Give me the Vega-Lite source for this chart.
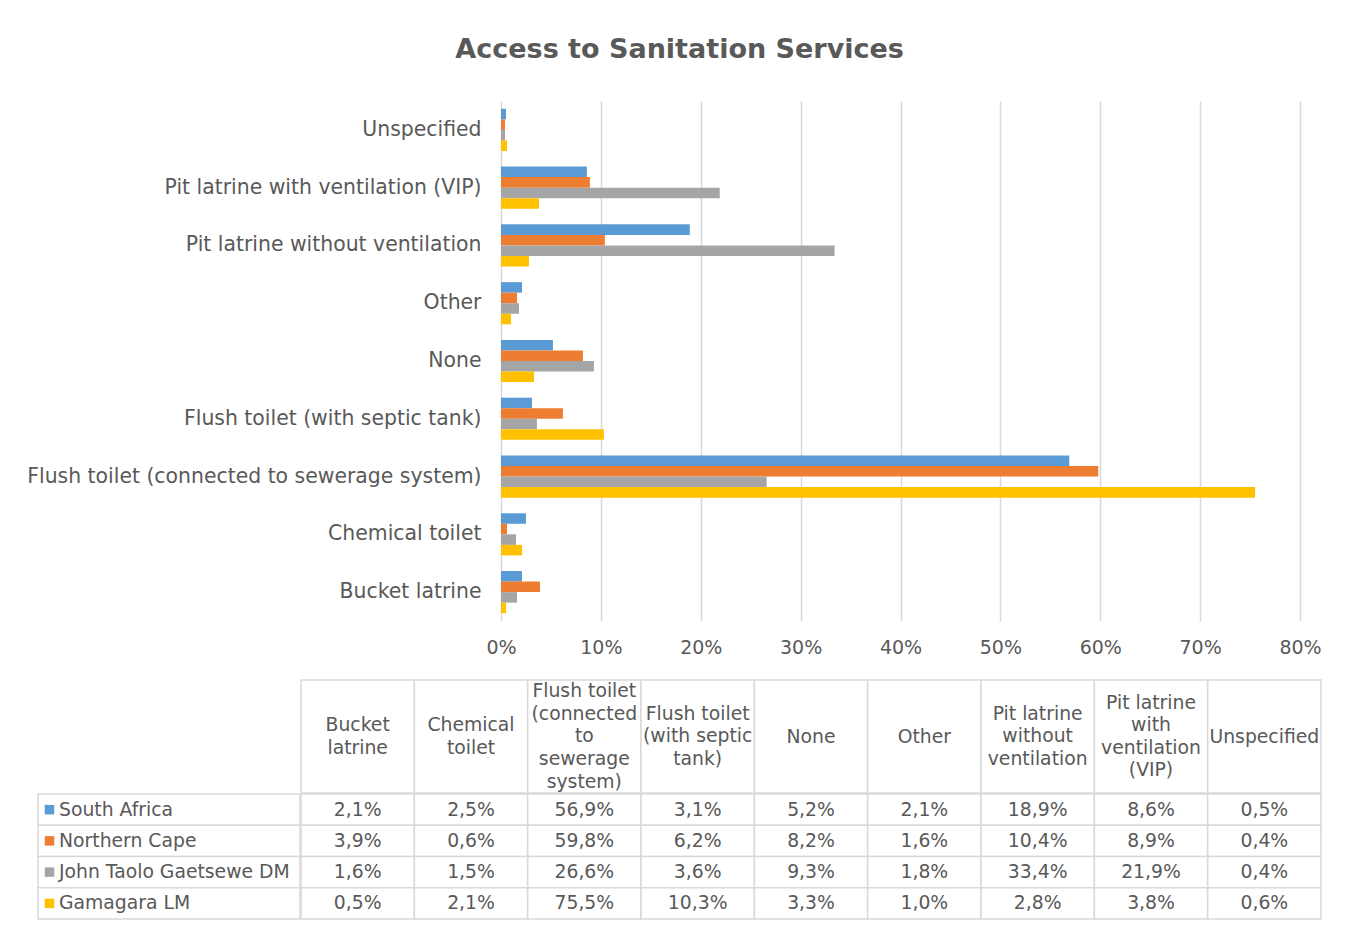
{
  "$schema": "https://vega.github.io/schema/vega-lite/v6.json",
  "background": "white",
  "padding": {"left": 25, "top": 36, "right": 20, "bottom": 20},
  "title": {"text": "Access to Sanitation Services", "fontSize": 27, "fontWeight": "bold", "color": "#595959", "anchor": "middle", "offset": 37, "dx": 6},
  "datasets": {
    "main": [
      {"series": "South Africa", "cat": "Bucket latrine", "value": 0.021},
      {"series": "South Africa", "cat": "Chemical toilet", "value": 0.025},
      {"series": "South Africa", "cat": "Flush toilet (connected to sewerage system)", "value": 0.569},
      {"series": "South Africa", "cat": "Flush toilet (with septic tank)", "value": 0.031},
      {"series": "South Africa", "cat": "None", "value": 0.052},
      {"series": "South Africa", "cat": "Other", "value": 0.021},
      {"series": "South Africa", "cat": "Pit latrine without ventilation", "value": 0.189},
      {"series": "South Africa", "cat": "Pit latrine with ventilation (VIP)", "value": 0.086},
      {"series": "South Africa", "cat": "Unspecified", "value": 0.005},
      {"series": "Northern Cape", "cat": "Bucket latrine", "value": 0.039},
      {"series": "Northern Cape", "cat": "Chemical toilet", "value": 0.006},
      {"series": "Northern Cape", "cat": "Flush toilet (connected to sewerage system)", "value": 0.598},
      {"series": "Northern Cape", "cat": "Flush toilet (with septic tank)", "value": 0.062},
      {"series": "Northern Cape", "cat": "None", "value": 0.082},
      {"series": "Northern Cape", "cat": "Other", "value": 0.016},
      {"series": "Northern Cape", "cat": "Pit latrine without ventilation", "value": 0.104},
      {"series": "Northern Cape", "cat": "Pit latrine with ventilation (VIP)", "value": 0.089},
      {"series": "Northern Cape", "cat": "Unspecified", "value": 0.004},
      {"series": "John Taolo Gaetsewe DM", "cat": "Bucket latrine", "value": 0.016},
      {"series": "John Taolo Gaetsewe DM", "cat": "Chemical toilet", "value": 0.015},
      {"series": "John Taolo Gaetsewe DM", "cat": "Flush toilet (connected to sewerage system)", "value": 0.266},
      {"series": "John Taolo Gaetsewe DM", "cat": "Flush toilet (with septic tank)", "value": 0.036},
      {"series": "John Taolo Gaetsewe DM", "cat": "None", "value": 0.093},
      {"series": "John Taolo Gaetsewe DM", "cat": "Other", "value": 0.018},
      {"series": "John Taolo Gaetsewe DM", "cat": "Pit latrine without ventilation", "value": 0.334},
      {"series": "John Taolo Gaetsewe DM", "cat": "Pit latrine with ventilation (VIP)", "value": 0.219},
      {"series": "John Taolo Gaetsewe DM", "cat": "Unspecified", "value": 0.004},
      {"series": "Gamagara LM", "cat": "Bucket latrine", "value": 0.005},
      {"series": "Gamagara LM", "cat": "Chemical toilet", "value": 0.021},
      {"series": "Gamagara LM", "cat": "Flush toilet (connected to sewerage system)", "value": 0.755},
      {"series": "Gamagara LM", "cat": "Flush toilet (with septic tank)", "value": 0.103},
      {"series": "Gamagara LM", "cat": "None", "value": 0.033},
      {"series": "Gamagara LM", "cat": "Other", "value": 0.010},
      {"series": "Gamagara LM", "cat": "Pit latrine without ventilation", "value": 0.028},
      {"series": "Gamagara LM", "cat": "Pit latrine with ventilation (VIP)", "value": 0.038},
      {"series": "Gamagara LM", "cat": "Unspecified", "value": 0.006}
    ],
    "headers": [
      {"cat": "Bucket latrine", "label": "Bucket\nlatrine"},
      {"cat": "Chemical toilet", "label": "Chemical\ntoilet"},
      {"cat": "Flush toilet (connected to sewerage system)", "label": "Flush toilet\n(connected\nto\nsewerage\nsystem)"},
      {"cat": "Flush toilet (with septic tank)", "label": "Flush toilet\n(with septic\ntank)"},
      {"cat": "None", "label": "None"},
      {"cat": "Other", "label": "Other"},
      {"cat": "Pit latrine without ventilation", "label": "Pit latrine\nwithout\nventilation"},
      {"cat": "Pit latrine with ventilation (VIP)", "label": "Pit latrine\nwith\nventilation\n(VIP)"},
      {"cat": "Unspecified", "label": "Unspecified"}
    ],
    "series": [
      {"series": "South Africa"},
      {"series": "Northern Cape"},
      {"series": "John Taolo Gaetsewe DM"},
      {"series": "Gamagara LM"}
    ]
  },
  "vconcat": [
    {
      "hconcat": [
        {"width": 463, "height": 520, "data": {"values": []}, "mark": "point", "encoding": {}},
        {
          "width": 799, "height": 520,
          "data": {"name": "main"},
          "mark": {"type": "bar"},
          "encoding": {
            "y": {"field": "cat", "type": "nominal",
              "sort": ["Unspecified", "Pit latrine with ventilation (VIP)", "Pit latrine without ventilation", "Other", "None", "Flush toilet (with septic tank)", "Flush toilet (connected to sewerage system)", "Chemical toilet", "Bucket latrine"],
              "scale": {"paddingInner": 0.27, "paddingOuter": 0.135},
              "axis": {"title": null, "labelFontSize": 20.4, "labelColor": "#595959", "labelPadding": 20, "ticks": false, "domain": false, "labelLimit": 0}},
            "yOffset": {"field": "series", "type": "nominal",
              "sort": ["South Africa", "Northern Cape", "John Taolo Gaetsewe DM", "Gamagara LM"],
              "scale": {"paddingInner": 0, "paddingOuter": 0}},
            "x": {"field": "value", "type": "quantitative",
              "scale": {"domain": [0, 0.8], "nice": false},
              "axis": {"title": null, "format": ".0%", "values": [0, 0.1, 0.2, 0.3, 0.4, 0.5, 0.6, 0.7, 0.8], "grid": true, "gridColor": "#D9D9D9", "gridWidth": 1.5, "domain": false, "ticks": false, "labelFontSize": 19, "labelColor": "#595959", "labelPadding": 17, "labelFlush": false}},
            "color": {"field": "series", "type": "nominal",
              "scale": {"domain": ["South Africa", "Northern Cape", "John Taolo Gaetsewe DM", "Gamagara LM"], "range": ["#5B9BD5", "#ED7D31", "#A5A5A5", "#FFC000"]},
              "legend": null}
          }
        }
      ],
      "spacing": 0,
      "bounds": "flush"
    },
    {
      "vconcat": [
        {
          "hconcat": [
            {"width": 262, "height": 113, "data": {"values": []}, "mark": "point", "encoding": {}},
            {
              "width": 1020, "height": 113,
              "data": {"name": "headers"},
              "layer": [
                {"mark": {"type": "rect", "fill": "white", "stroke": "#D9D9D9", "strokeWidth": 1.5},
                 "encoding": {"x": {"field": "cat", "type": "nominal", "sort": ["Bucket latrine", "Chemical toilet", "Flush toilet (connected to sewerage system)", "Flush toilet (with septic tank)", "None", "Other", "Pit latrine without ventilation", "Pit latrine with ventilation (VIP)", "Unspecified"], "scale": {"paddingInner": 0, "paddingOuter": 0}, "axis": null}}},
                {"mark": {"type": "text", "fontSize": 18.8, "color": "#595959", "lineBreak": "\n", "lineHeight": 22.6, "baseline": "middle", "align": "center", "dy": {"expr": "-(split(datum.label, '\\n').length - 1) * 11.3"}},
                 "encoding": {"x": {"field": "cat", "type": "nominal", "sort": ["Bucket latrine", "Chemical toilet", "Flush toilet (connected to sewerage system)", "Flush toilet (with septic tank)", "None", "Other", "Pit latrine without ventilation", "Pit latrine with ventilation (VIP)", "Unspecified"], "scale": {"paddingInner": 0, "paddingOuter": 0}, "axis": null},
                   "text": {"field": "label", "type": "nominal"}}}
              ]
            }
          ],
          "spacing": 0
        },
        {
          "hconcat": [
            {
              "width": 262, "height": 125,
              "data": {"name": "series"},
              "layer": [
                {"mark": {"type": "rect", "fill": "white", "stroke": "#D9D9D9", "strokeWidth": 1.5},
                 "encoding": {"y": {"field": "series", "type": "nominal", "sort": ["South Africa", "Northern Cape", "John Taolo Gaetsewe DM", "Gamagara LM"], "scale": {"paddingInner": 0, "paddingOuter": 0}, "axis": {"title": null, "labels": false, "domain": false, "ticks": true, "tickSize": 12, "tickColor": "transparent"}}}},
                {"mark": {"type": "point", "shape": "square", "filled": true, "size": 90, "opacity": 1, "xOffset": -119.5},
                 "encoding": {"y": {"field": "series", "type": "nominal", "sort": ["South Africa", "Northern Cape", "John Taolo Gaetsewe DM", "Gamagara LM"], "scale": {"paddingInner": 0, "paddingOuter": 0}},
                   "color": {"field": "series", "type": "nominal", "scale": {"domain": ["South Africa", "Northern Cape", "John Taolo Gaetsewe DM", "Gamagara LM"], "range": ["#5B9BD5", "#ED7D31", "#A5A5A5", "#FFC000"]}, "legend": null}}},
                {"mark": {"type": "text", "align": "left", "baseline": "middle", "dx": -110, "fontSize": 18.8, "color": "#595959"},
                 "encoding": {"y": {"field": "series", "type": "nominal", "sort": ["South Africa", "Northern Cape", "John Taolo Gaetsewe DM", "Gamagara LM"], "scale": {"paddingInner": 0, "paddingOuter": 0}},
                   "text": {"field": "series", "type": "nominal"}}}
              ]
            },
            {
              "width": 1020, "height": 125,
              "data": {"name": "main"},
              "layer": [
                {"mark": {"type": "rect", "fill": "white", "stroke": "#D9D9D9", "strokeWidth": 1.5},
                 "encoding": {
                   "x": {"field": "cat", "type": "nominal", "sort": ["Bucket latrine", "Chemical toilet", "Flush toilet (connected to sewerage system)", "Flush toilet (with septic tank)", "None", "Other", "Pit latrine without ventilation", "Pit latrine with ventilation (VIP)", "Unspecified"], "scale": {"paddingInner": 0, "paddingOuter": 0}, "axis": null},
                   "y": {"field": "series", "type": "nominal", "sort": ["South Africa", "Northern Cape", "John Taolo Gaetsewe DM", "Gamagara LM"], "scale": {"paddingInner": 0, "paddingOuter": 0}, "axis": null}}},
                {"mark": {"type": "text", "fontSize": 18.8, "color": "#595959", "baseline": "middle", "align": "center"},
                 "encoding": {
                   "x": {"field": "cat", "type": "nominal", "sort": ["Bucket latrine", "Chemical toilet", "Flush toilet (connected to sewerage system)", "Flush toilet (with septic tank)", "None", "Other", "Pit latrine without ventilation", "Pit latrine with ventilation (VIP)", "Unspecified"], "scale": {"paddingInner": 0, "paddingOuter": 0}, "axis": null},
                   "y": {"field": "series", "type": "nominal", "sort": ["South Africa", "Northern Cape", "John Taolo Gaetsewe DM", "Gamagara LM"], "scale": {"paddingInner": 0, "paddingOuter": 0}, "axis": null},
                   "text": {"field": "value", "type": "quantitative", "format": ".1%"}}}
              ]
            }
          ],
          "spacing": -2
        }
      ],
      "spacing": -3
    }
  ],
  "spacing": 22,
  "resolve": {"scale": {"x": "independent", "y": "independent"}},
  "config": {
    "font": "DejaVu Sans",
    "view": {"stroke": null},
    "locale": {"number": {"decimal": ",", "thousands": " ", "grouping": [3], "currency": ["", ""]}}
  }
}
